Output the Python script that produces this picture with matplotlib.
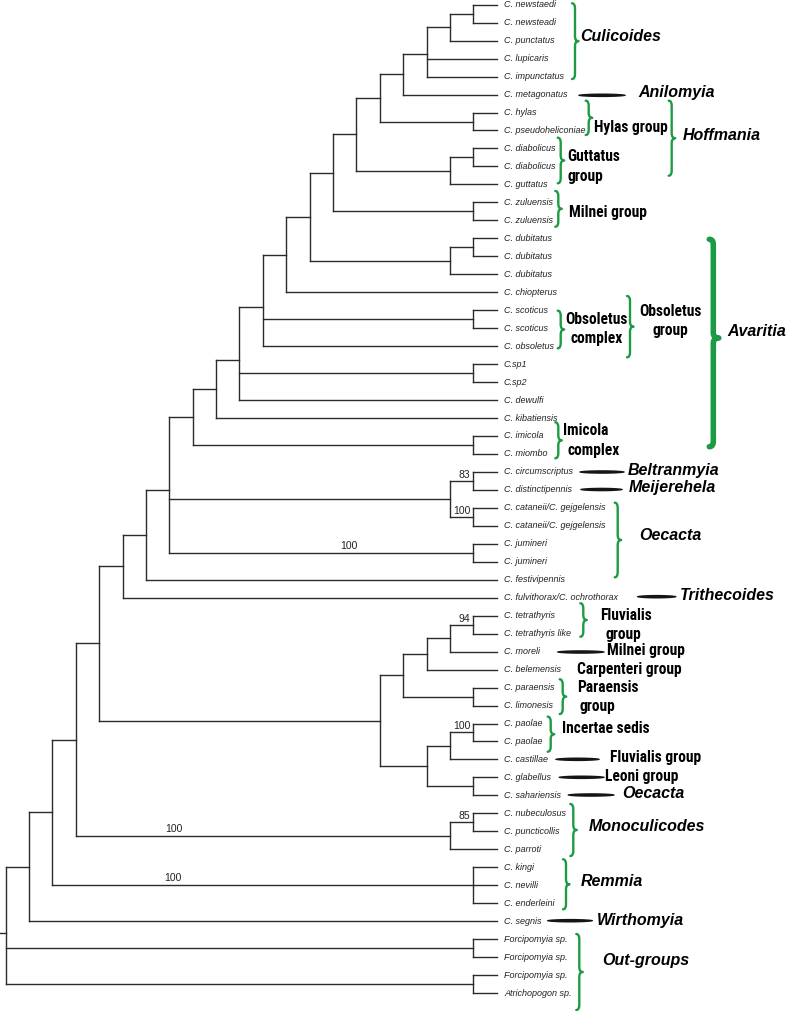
import matplotlib

matplotlib.use("Agg")
import matplotlib.pyplot as plt
import numpy as np
from matplotlib import font_manager
from matplotlib.collections import LineCollection
from matplotlib.patches import PathPatch, Polygon
from matplotlib.path import Path

# ---- data -------------------------------------------------------------
TIPS = [
    "C. newstaedi", "C. newsteadi", "C. punctatus", "C. lupicaris",
    "C. impunctatus", "C. metagonatus", "C. hylas", "C. pseudoheliconiae",
    "C. diabolicus", "C. diabolicus", "C. guttatus", "C. zuluensis",
    "C. zuluensis", "C. dubitatus", "C. dubitatus", "C. dubitatus",
    "C. chiopterus", "C. scoticus", "C. scoticus", "C. obsoletus",
    "C.sp1", "C.sp2", "C. dewulfi", "C. kibatiensis", "C. imicola",
    "C. miombo", "C. circumscriptus", "C. distinctipennis",
    "C. cataneii/C. gejgelensis", "C. cataneii/C. gejgelensis",
    "C. jumineri", "C. jumineri", "C. festivipennis",
    "C. fulvithorax/C. ochrothorax", "C. tetrathyris", "C. tetrathyris like",
    "C. moreli", "C. belemensis", "C. paraensis", "C. limonesis",
    "C. paolae", "C. paolae", "C. castillae", "C. glabellus",
    "C. sahariensis", "C. nubeculosus", "C. puncticollis", "C. parroti",
    "C. kingi", "C. nevilli", "C. enderleini", "C. segnis",
    "Forcipomyia sp.", "Forcipomyia sp.", "Forcipomyia sp.", "Atrichopogon sp.",
]

# topology (indices into TIPS), built from the crown outwards
culicoides = [[[0, 1], 2], 3, 4]
clade_a = [[[[[[[culicoides, 5], [6, 7]], [[8, 9], 10]], [11, 12]],
              [[13, 14], 15]], 16], [17, 18], 19]
clade_b = [[[clade_a, [20, 21], 22], 23], [24, 25]]
clade_c = [[[clade_b, [[26, 27], [28, 29]], [30, 31]], 32], 33]
clade_d = [[[[[34, 35], 36], 37], [38, 39]], [[[40, 41], 42], [43, 44]]]
ROOT = [[[[[clade_c, clade_d], [[45, 46], 47]], [48, 49, 50]], 51],
        [52, 53], [54, 55]]

# bootstrap support, keyed by (first tip, last tip) of the node
BOOT = {(26, 27): 83, (28, 29): 100, (30, 31): 100, (34, 35): 94,
        (40, 41): 100, (45, 46): 85, (45, 47): 100, (48, 50): 100}
BOOT_ON_BRANCH = {(30, 31): 349, (45, 47): 174, (48, 50): 173}

# ---- layout -----------------------------------------------------------
X0, DX = 5.7, 23.38
Y0, DY = 4.7, 17.97
LINE = "#2b2b2b"
GREEN = "#1c9a44"

avail = {f.name for f in font_manager.fontManager.ttflist}
GRP = dict(family=["Liberation Sans", "DejaVu Sans"], fontweight="bold",
           fontsize=9.8)
for cand in ["Liberation Sans Narrow", "Roboto Condensed",
             "Open Sans Condensed"]:
    if cand in avail:
        GRP = dict(family=[cand, "DejaVu Sans"], fontweight="bold",
                   fontsize=11.2)
        break
GEN = dict(family=["Liberation Sans", "DejaVu Sans"], fontweight="bold",
           fontstyle="italic", fontsize=11.5)
TIPF = dict(family=["Liberation Sans", "DejaVu Sans"], fontstyle="italic",
            fontsize=6.5, color="#222222")


def height(n):
    return 0 if isinstance(n, int) else 1 + max(height(c) for c in n)


H = height(ROOT)
segs, nodes = [], {}


def place(n):
    if isinstance(n, int):
        return X0 + H * DX, Y0 + n * DY, n, n
    kids = [place(c) for c in n]
    x = X0 + (H - height(n)) * DX
    ys = [k[1] for k in kids]
    y = sum(ys) / len(ys)
    segs.append([(x, min(ys)), (x, max(ys))])
    for kx, ky, _, _ in kids:
        segs.append([(x, ky), (kx, ky)])
    nodes[(kids[0][2], kids[-1][3])] = (x, y)
    return x, y, kids[0][2], kids[-1][3]


def brace(ax, x, y0, y1, lw=1.7, w=3.0, tip=3.5, ym=None):
    ym = (y0 + y1) / 2 if ym is None else ym
    r = min(5.0, (y1 - y0) / 6)
    verts = [(x - w, y0), (x, y0), (x, y0 + r),
             (x, ym - r), (x, ym), (x + tip, ym),
             (x, ym), (x, ym + r),
             (x, y1 - r), (x, y1), (x - w, y1)]
    codes = [Path.MOVETO, Path.CURVE3, Path.CURVE3, Path.LINETO,
             Path.CURVE3, Path.CURVE3, Path.CURVE3, Path.CURVE3,
             Path.LINETO, Path.CURVE3, Path.CURVE3]
    ax.add_patch(PathPatch(Path(verts, codes), fc="none", ec=GREEN, lw=lw,
                           capstyle="round", joinstyle="round"))


def lens(ax, x0, x1, y, half=1.8):
    t = np.linspace(0, 1, 60)
    xs = x0 + t * (x1 - x0)
    hs = half * np.sin(np.pi * t) ** 0.35
    pts = np.concatenate([np.c_[xs, y - hs], np.c_[xs[::-1], y + hs[::-1]]])
    ax.add_patch(Polygon(pts, closed=True, fc="#151515", ec="none"))


fig = plt.figure(figsize=(7.86, 10.11), dpi=100)
ax = fig.add_axes([0, 0, 1, 1])
ax.set_xlim(0, 786)
ax.set_ylim(1011, 0)
ax.axis("off")

rx, ry, _, _ = place(ROOT)
segs.append([(0, ry), (rx, ry)])
ax.add_collection(LineCollection(segs, colors=LINE, linewidths=1.0,
                                 capstyle="projecting"))

for i, name in enumerate(TIPS):
    ax.text(504, Y0 + i * DY, name, ha="left", va="center", **TIPF)

for key, val in BOOT.items():
    nx, ny = nodes[key]
    if key in BOOT_ON_BRANCH:
        ax.text(BOOT_ON_BRANCH[key], ny - 7, str(val), ha="center",
                va="center", fontsize=7.5, family="Liberation Sans",
                color="#222222")
    else:
        ax.text(nx - 3, ny - 6, str(val), ha="right", va="center",
                fontsize=7.5, family="Liberation Sans", color="#222222")

# green braces
for bx, b0, b1 in [(575, 3.3, 79), (588.7, 100.7, 135), (671.7, 100.7, 175.7),
                   (560.7, 137.7, 183.3), (558.3, 191, 226.7),
                   (560.7, 310.7, 348.3), (630, 296, 357.3),
                   (558.3, 422.3, 458.3), (617.7, 502.7, 577.3),
                   (583.3, 603.3, 636.7), (562.7, 679.3, 714),
                   (550.7, 716.7, 751.7), (573.3, 804, 856),
                   (566, 859.3, 909.3), (579.3, 934, 1010)]:
    brace(ax, bx, b0, b1)
brace(ax, 713.3, 239.3, 446.7, lw=4.0, w=4.0, tip=5.5, ym=338)

# black pointer bars
for x0, x1, y in [(578, 626, 95.3), (579, 625, 472), (580, 623, 489.5),
                  (636.7, 676.7, 596.7), (556.7, 605, 652),
                  (555, 600, 759.3), (558.3, 605, 777.3),
                  (567.3, 615, 795), (546.7, 593.3, 920.7)]:
    lens(ax, x0, x1, y)

# subgenus labels
for txt, x, y in [("Culicoides", 580.7, 36.7), ("Anilomyia", 638, 92.7),
                  ("Hoffmania", 682.7, 135), ("Avaritia", 727.3, 331.7),
                  ("Beltranmyia", 628, 470), ("Meijerehela", 628.3, 487.3),
                  ("Oecacta", 639.3, 535), ("Trithecoides", 680, 595),
                  ("Oecacta", 622.7, 793.3), ("Monoculicodes", 589, 826.7),
                  ("Remmia", 580.7, 881.7), ("Wirthomyia", 596.7, 920),
                  ("Out-groups", 602.7, 960.7)]:
    ax.text(x, y, txt, ha="left", va="center", color="black", **GEN)

# species-group labels
for txt, x, y, ha in [("Hylas group", 594, 127.7, "left"),
                      ("Guttatus", 567.3, 156.7, "left"),
                      ("group", 567.3, 176, "left"),
                      ("Milnei group", 568.7, 212.7, "left"),
                      ("Obsoletus", 596.7, 319, "center"),
                      ("complex", 596.7, 338.3, "center"),
                      ("Obsoletus", 670, 311, "center"),
                      ("group", 670, 330, "center"),
                      ("Imicola", 562.7, 430.7, "left"),
                      ("complex", 567.3, 450.7, "left"),
                      ("Fluvialis", 600, 615, "left"),
                      ("group", 605, 634, "left"),
                      ("Milnei group", 606.7, 650.7, "left"),
                      ("Carpenteri group", 577.3, 669.5, "left"),
                      ("Paraensis", 576.7, 687.3, "left"),
                      ("group", 580, 706.7, "left"),
                      ("Incertae sedis", 561.7, 728.3, "left"),
                      ("Fluvialis group", 610, 757.3, "left"),
                      ("Leoni group", 605, 776, "left")]:
    ax.text(x, y, txt, ha=ha, va="center", color="black", **GRP)

fig.savefig("out.png", dpi=100)
